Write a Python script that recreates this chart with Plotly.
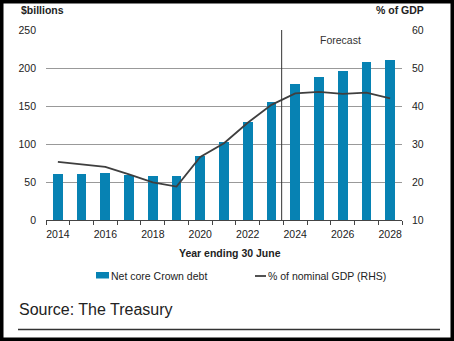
import plotly.graph_objects as go

years = list(range(2014, 2029))
net_core_debt = [60, 60, 61.5, 59, 57.5, 57.5, 84, 102, 129, 155.5, 179, 188, 196.5, 208, 211]
pct_gdp = [25.3, 24.7, 24.0, 22.0, 19.9, 18.8, 26.6, 30.2, 35.6, 40.3, 43.3, 43.7, 43.2, 43.5, 42.0]
x_tick_labels = ["2014", "2016", "2018", "2020", "2022", "2024", "2026", "2028"]
forecast_start = 2023.43

W, H = 454, 341
L, R, T, B = 46, 402, 30, 220
FONT = "Liberation Sans, Arial, sans-serif"
BAR = "#0782b3"
LINE = "#3f3f3f"
TXT = "#222222"


def px(x):
    return (x - L) / (R - L)


def py(y):
    return (B - y) / (B - T)


fig = go.Figure()
fig.add_trace(go.Bar(x=years, y=net_core_debt, width=0.41, marker=dict(color=BAR, line=dict(width=0)),
                     name="Net core Crown debt", showlegend=False))
fig.add_trace(go.Scatter(x=years, y=pct_gdp, yaxis="y2", mode="lines", line=dict(color=LINE, width=1.8),
                         name="% of nominal GDP (RHS)", showlegend=False))

fig.update_layout(
    width=W, height=H,
    margin=dict(l=L, r=W - R, t=T, b=H - B, pad=0),
    paper_bgcolor="white", plot_bgcolor="white",
    font=dict(family=FONT, size=10.5, color=TXT),
    bargap=0,
    xaxis=dict(range=[2013.5, 2028.5], tickvals=[int(t) for t in x_tick_labels], ticktext=x_tick_labels,
               ticks="", showgrid=False, showline=True, linecolor="#444", linewidth=1,
               ticklabelstandoff=4, zeroline=False, fixedrange=True,
               minor=dict(tick0=2013.5, dtick=1, ticks="outside", ticklen=4, tickcolor="#444", showgrid=False)),
    yaxis=dict(range=[0, 250], dtick=50, showgrid=True, gridcolor="#999999", gridwidth=1,
               zeroline=False, ticks="", ticklabelstandoff=9, showline=False),
    yaxis2=dict(range=[10, 60], dtick=10, overlaying="y", side="right", showgrid=False,
                zeroline=False, ticks="", ticklabelstandoff=9, showline=False),
)

shapes = [
    dict(type="line", xref="x", yref="paper", x0=forecast_start, x1=forecast_start, y0=0, y1=1,
         line=dict(color="#333", width=1)),
    # source underline
    dict(type="line", xref="paper", yref="paper", x0=px(18), x1=px(440), y0=py(329.5), y1=py(329.5),
         line=dict(color="#333", width=1.5)),
    # legend symbols
    dict(type="rect", xref="paper", yref="paper", x0=px(96), x1=px(109), y0=py(278.5), y1=py(272),
         fillcolor=BAR, line=dict(width=0)),
    dict(type="line", xref="paper", yref="paper", x0=px(255), x1=px(266), y0=py(276), y1=py(276),
         line=dict(color=LINE, width=1.8)),
    # frame
    dict(type="rect", xref="paper", yref="paper", x0=px(1.75), x1=px(W - 1.75), y0=py(1.75), y1=py(H - 1.75),
         line=dict(color="black", width=3.5), fillcolor="rgba(0,0,0,0)"),
]
fig.update_layout(shapes=shapes)


def ann(text, x, y, xanchor="left", size=10.5, bold=False, color=TXT):
    return dict(text=f"<b>{text}</b>" if bold else text, xref="paper", yref="paper", x=px(x), y=py(y),
                xanchor=xanchor, yanchor="middle", showarrow=False, font=dict(size=size, color=color, family=FONT))


fig.update_layout(annotations=[
    ann("$billions", 19, 10, bold=True),
    ann("% of GDP", 426, 10, xanchor="right", bold=True),
    ann("Forecast", 340, 40, xanchor="center", color="#333"),
    ann("Year ending 30 June", 229.5, 253, xanchor="center", bold=True),
    ann("Net core Crown debt", 109, 276),
    ann("% of nominal GDP (RHS)", 266, 276),
    ann("Source: The Treasury", 17, 309, size=16),
])

fig.write_html("out.html")
